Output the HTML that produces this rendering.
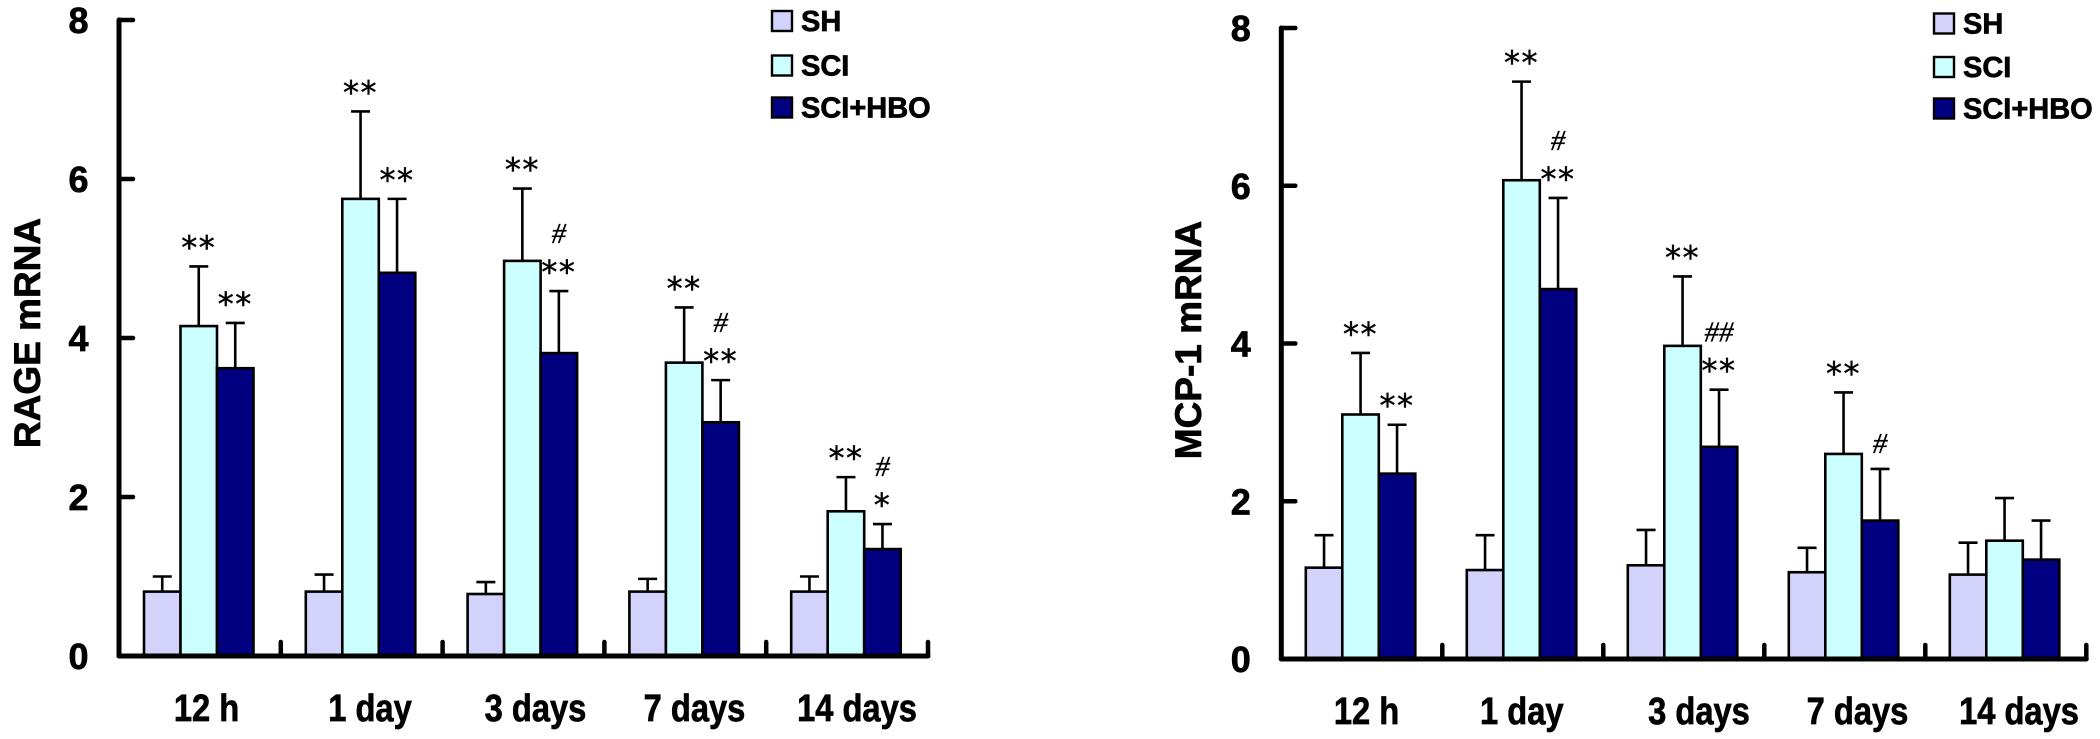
<!DOCTYPE html>
<html lang="en">
<head>
<meta charset="utf-8">
<title>RAGE and MCP-1 mRNA bar charts</title>
<style>
html,body{margin:0;padding:0;background:#fff;width:2100px;height:739px;overflow:hidden}
svg{display:block}
text{fill:#000;stroke:#000;stroke-width:.7px;font-family:"Liberation Sans",Arial,sans-serif;font-weight:700}
.star{font-family:"DejaVu Sans",sans-serif;font-weight:400;font-size:32px;letter-spacing:1.5px;stroke-width:.45px}
.hash{font-family:"Liberation Serif",serif;font-style:italic;font-weight:400;font-size:29px;stroke-width:.35px}
</style>
</head>
<body>
<svg id="figure" xmlns="http://www.w3.org/2000/svg" width="2100" height="739" viewBox="0 0 2100 739"></svg>
<script>
// Shared chart data
const categories = ['12 h', '1 day', '3 days', '7 days', '14 days'];
const seriesNames = ['SH', 'SCI', 'SCI+HBO'];
const yTickLabels = [0, 2, 4, 6, 8];

// RAGE mRNA: bar values and error-bar tops
const rageSh = [0.81, 0.81, 0.78, 0.81, 0.81];
const rageSci = [4.15, 5.75, 4.97, 3.69, 1.82];
const rageHbo = [3.62, 4.82, 3.81, 2.94, 1.345];
const rageShTop = [1.0, 1.025, 0.93, 0.97, 1.0];
const rageSciTop = [4.9, 6.85, 5.88, 4.385, 2.25];
const rageHboTop = [4.19, 5.75, 4.59, 3.47, 1.66];
const rageSciStars = ['**', '**', '**', '**', '**'];
const rageHboStars = ['**', '**', '**', '**', '*'];
const rageHboHash = ['', '', '#', '#', '#'];

// MCP-1 mRNA: bar values and error-bar tops
const mcpSh = [1.158, 1.128, 1.188, 1.10, 1.07];
const mcpSci = [3.10, 6.07, 3.97, 2.60, 1.50];
const mcpHbo = [2.35, 4.69, 2.69, 1.755, 1.26];
const mcpShTop = [1.57, 1.57, 1.636, 1.41, 1.475];
const mcpSciTop = [3.88, 7.32, 4.85, 3.38, 2.04];
const mcpHboTop = [2.97, 5.845, 3.415, 2.41, 1.755];
const mcpSciStars = ['**', '**', '**', '**', ''];
const mcpHboStars = ['**', '**', '**', '', ''];
const mcpHboHash = ['', '#', '##', '#', ''];

const SVG_NS = 'http://www.w3.org/2000/svg';
const figure = document.getElementById('figure');
const seriesFills = ['#d2d2fb', '#ccffff', '#000080'];

function make(parent, tag, attrs, content) {
  const el = document.createElementNS(SVG_NS, tag);
  for (const key in attrs) el.setAttribute(key, attrs[key]);
  if (content !== undefined) el.textContent = content;
  parent.appendChild(el);
  return el;
}

function drawChart(cfg) {
  const group = make(figure, 'g', {});
  
  

  const yScale = v => cfg.y0 - (v / 8) * (cfg.y0 - cfg.y8);
  const bandLeft = i => cfg.axisX + cfg.step * i;
  const barLeft = (i, s) => bandLeft(i) + cfg.barStart + cfg.barWidth * s;
  const barWidth = cfg.barWidth;

  // Bars and error bars
  cfg.values.forEach((series, s) => {
    series.forEach((value, i) => {
      const x = barLeft(i, s);
      const cx = x + barWidth / 2;
      const yv = yScale(value);
      const yt = yScale(cfg.tops[s][i]);

      const err = make(group, 'path', {
        d: 'M' + cx + ' ' + yv + 'V' + yt + 'M' + (cx - 9.5) + ' ' + yt + 'H' + (cx + 9.5),
        fill: 'none', stroke: '#000', 'stroke-width': 2.6
      });
      
      

      const bar = make(group, 'rect', {
        x: x, y: yv, width: barWidth, height: cfg.y0 - yv,
        fill: seriesFills[s], stroke: '#000', 'stroke-width': 2.6
      });
      
      
    });
  });

  // Significance marks
  const markSeries = [[cfg.sciStars, 1, cfg.tops[1]], [cfg.hboStars, 2, cfg.tops[2]]];
  markSeries.forEach(entry => {
    entry[0].forEach((label, i) => {
      if (!label) return;
      const cx = barLeft(i, entry[1]) + barWidth / 2;
      const star = make(group, 'text', {
        class: 'star', x: cx, y: yScale(entry[2][i]) - 24 + 16, 'text-anchor': 'middle'
      }, label);
      
      
    });
  });
  cfg.hboHash.forEach((label, i) => {
    if (!label) return;
    const cx = barLeft(i, 2) + barWidth / 2;
    const lift = cfg.hboStars[i] ? 57 : 25;
    const hash = make(group, 'text', {
      class: 'hash', x: cx, y: yScale(cfg.tops[2][i]) - lift + 9, 'text-anchor': 'middle'
    }, label);
    
    
  });

  // Axes
  const axisEnd = bandLeft(categories.length);
  const yAxis = make(group, 'line', {
    x1: cfg.axisX, y1: yScale(8), x2: cfg.axisX, y2: cfg.y0,
    stroke: '#000', 'stroke-width': 5, 'stroke-linecap': 'round'
  });
  
  

  const xAxis = make(group, 'line', {
    x1: cfg.axisX, y1: cfg.y0, x2: axisEnd, y2: cfg.y0,
    stroke: '#000', 'stroke-width': 5, 'stroke-linecap': 'round'
  });
  
  

  yTickLabels.forEach(v => {
    const y = yScale(v);
    if (v > 0) {
      const tick = make(group, 'line', {
        x1: cfg.axisX, y1: y, x2: cfg.axisX + 14, y2: y,
        stroke: '#000', 'stroke-width': 4.5, 'stroke-linecap': 'round'
      });
      
      
    }
    const tickLabel = make(group, 'text', {
      x: cfg.axisX - 40.5, y: y + 13, 'font-size': 36, 'text-anchor': 'middle'
    }, String(v));
    
    
  });

  categories.forEach((name, i) => {
    const tickX = bandLeft(i + 1);
    const tick = make(group, 'line', {
      x1: tickX, y1: cfg.y0, x2: tickX, y2: cfg.y0 - 14,
      stroke: '#000', 'stroke-width': 4.5, 'stroke-linecap': 'round'
    });
    
    

    const cx = bandLeft(i) + cfg.step / 2 + cfg.labelNudge[i];
    const label = make(group, 'text', {
      transform: 'translate(' + cx + ' ' + (cfg.y0 + 65) + ') scale(0.86 1)',
      'font-size': 38, 'text-anchor': 'middle'
    }, name);
    
    
  });

  // Y-axis title
  const title = make(group, 'text', {
    transform: 'translate(' + cfg.titleX + ' ' + cfg.titleY + ') rotate(-90)',
    'font-size': 37, 'text-anchor': 'middle'
  }, cfg.title);
  
  

  // Legend
  const legend = make(group, 'g', {});
  
  
  seriesNames.forEach((name, s) => {
    const swatch = make(legend, 'rect', {
      x: cfg.legendX, y: cfg.legendY[s], width: 20, height: 20,
      fill: seriesFills[s], stroke: '#000', 'stroke-width': 2.4
    });
    
    

    const entry = make(legend, 'text', {
      x: cfg.legendX + 29, y: cfg.legendY[s] + 20, 'font-size': 29
    }, name);
    
    
  });
}

drawChart({
  name: 'rage-mrna-chart',
  title: 'RAGE mRNA',
  titleX: 40, titleY: 333,
  axisX: 119, y0: 656, y8: 20, step: 161.8,
  barStart: 25, barWidth: 36.5,
  values: [rageSh, rageSci, rageHbo],
  tops: [rageShTop, rageSciTop, rageHboTop],
  sciStars: rageSciStars, hboStars: rageHboStars, hboHash: rageHboHash,
  labelNudge: [6.6, 8.3, 12, 9.2, 9.9],
  legendX: 772, legendY: [11, 55.5, 97.5]
});

drawChart({
  name: 'mcp-1-mrna-chart',
  title: 'MCP-1 mRNA',
  titleX: 1201, titleY: 340,
  axisX: 1281.3, y0: 659, y8: 28, step: 161,
  barStart: 24.5, barWidth: 36.5,
  values: [mcpSh, mcpSci, mcpHbo],
  tops: [mcpShTop, mcpSciTop, mcpHboTop],
  sciStars: mcpSciStars, hboStars: mcpHboStars, hboHash: mcpHboHash,
  labelNudge: [4.7, -1, 15.2, 12.7, 13.2],
  legendX: 1934, legendY: [13.5, 57, 98.5]
});
</script>
</body>
</html>
